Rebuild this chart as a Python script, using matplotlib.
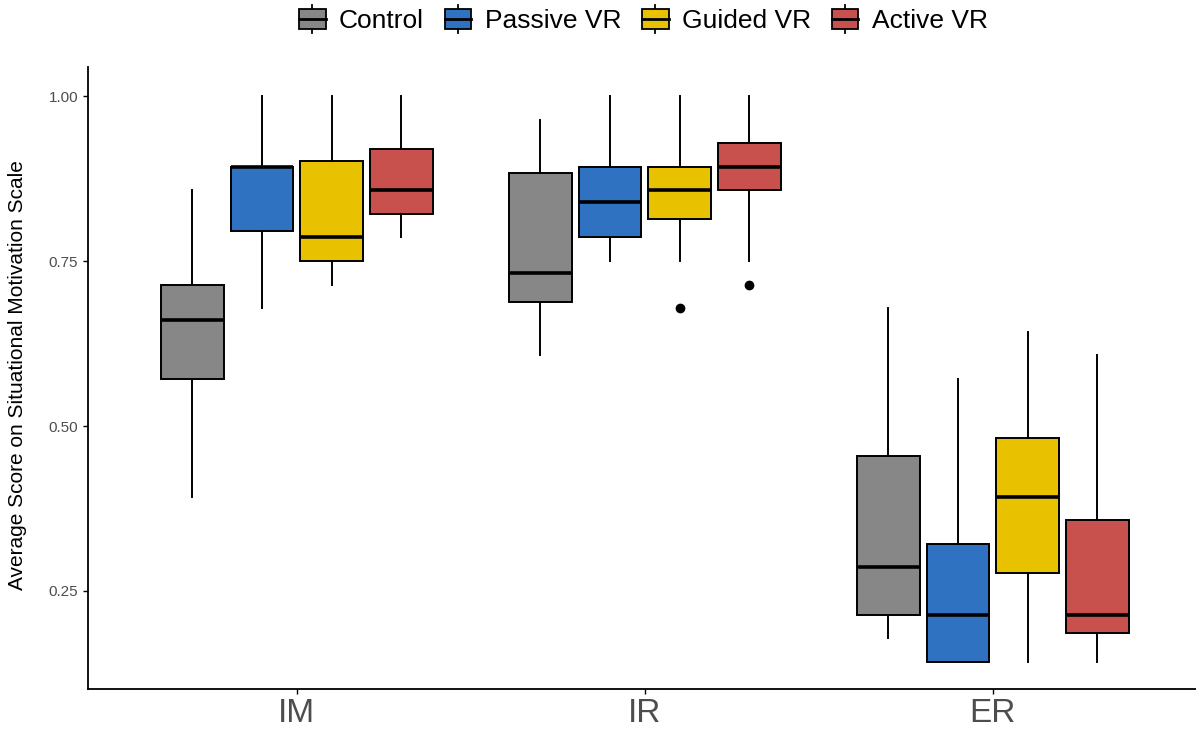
import matplotlib
matplotlib.use("Agg")
import matplotlib.pyplot as plt
from matplotlib.legend_handler import HandlerBase
from matplotlib.patches import Rectangle
from matplotlib.lines import Line2D

plt.rcParams['font.family'] = ['Liberation Sans', 'DejaVu Sans']

# data
scales = ["IM", "IR", "ER"]
groups = ["Control", "Passive VR", "Guided VR", "Active VR"]
colors = ["#878787", "#3072C2", "#E8C100", "#C8514D"]

# per group: one value per scale (IM, IR, ER)
whislo = {"Control":    [0.393, 0.607, 0.179],
          "Passive VR": [0.679, 0.750, 0.143],
          "Guided VR":  [0.714, 0.750, 0.143],
          "Active VR":  [0.786, 0.750, 0.143]}
q1 = {"Control":    [0.571, 0.688, 0.214],
      "Passive VR": [0.795, 0.786, 0.143],
      "Guided VR":  [0.750, 0.813, 0.277],
      "Active VR":  [0.822, 0.857, 0.187]}
med = {"Control":    [0.661, 0.732, 0.286],
       "Passive VR": [0.893, 0.839, 0.214],
       "Guided VR":  [0.786, 0.857, 0.393],
       "Active VR":  [0.857, 0.893, 0.214]}
q3 = {"Control":    [0.714, 0.884, 0.455],
      "Passive VR": [0.893, 0.893, 0.321],
      "Guided VR":  [0.902, 0.893, 0.482],
      "Active VR":  [0.920, 0.929, 0.357]}
whishi = {"Control":    [0.857, 0.964, 0.679],
          "Passive VR": [1.000, 1.000, 0.571],
          "Guided VR":  [1.000, 1.000, 0.643],
          "Active VR":  [1.000, 1.000, 0.607]}
fliers = {"Control":    [[], [], []],
          "Passive VR": [[], [], []],
          "Guided VR":  [[], [0.679], []],
          "Active VR":  [[], [0.714], []]}

fig = plt.figure(figsize=(11.96, 7.29), dpi=100)
ax = fig.add_axes([88 / 1196, 40 / 729, 1113.6 / 1196, 622 / 729])

offsets = [-0.3, -0.1, 0.1, 0.3]
for g, c, off in zip(groups, colors, offsets):
    stats = []
    for i in range(len(scales)):
        stats.append(dict(whislo=whislo[g][i], q1=q1[g][i], med=med[g][i],
                          q3=q3[g][i], whishi=whishi[g][i], fliers=fliers[g][i]))
    pos = [i + 1 + off for i in range(len(scales))]
    ax.bxp(stats, positions=pos, widths=0.18, patch_artist=True, showcaps=False,
           boxprops=dict(facecolor=c, edgecolor="black", linewidth=1.4),
           medianprops=dict(color="black", linewidth=2.6),
           whiskerprops=dict(color="black", linewidth=1.4),
           flierprops=dict(marker="o", markerfacecolor="black", markeredgecolor="black",
                           markersize=6))

ax.set_xlim(0.4, 3.6)
ax.set_ylim(0.1015, 1.044)
ax.set_xticks([1, 2, 3])
ax.set_xticklabels(scales, fontsize=24, color="#4D4D4D")
ax.set_yticks([0.25, 0.5, 0.75, 1.0])
ax.set_yticklabels(["0.25", "0.50", "0.75", "1.00"], fontsize=11, color="#4D4D4D")
ax.tick_params(axis="both", length=3.5, width=1, color="black")
ax.tick_params(axis="x", pad=3)
ax.set_ylabel("Average Score on Situational Motivation Scale", fontsize=15)
ax.yaxis.set_label_coords(-61 / 1113.6, 0.5 + 3 / 622)
for s in ["top", "right"]:
    ax.spines[s].set_visible(False)
for s in ["left", "bottom"]:
    ax.spines[s].set_linewidth(1.3)


class BoxKey(HandlerBase):
    def create_artists(self, legend, orig, xd, yd, w, h, fontsize, trans):
        cx = xd + w / 2
        bw = w
        bh = h * 1.1
        by = yd + h / 2 - bh / 2
        r = Rectangle((cx - bw / 2, by), bw, bh, facecolor=orig.get_facecolor(),
                      edgecolor="black", linewidth=1.3, transform=trans)
        wl = Line2D([cx, cx], [by - h * 0.22, by + bh + h * 0.22], color="black",
                    linewidth=1.3, transform=trans)
        ml = Line2D([cx - bw / 2, cx + bw / 2], [yd + h / 2] * 2, color="black",
                    linewidth=2.0, transform=trans)
        return [wl, r, ml]


handles = [Rectangle((0, 0), 1, 1, facecolor=c) for c in colors]
fig.legend(handles, groups, loc="center", bbox_to_anchor=(0.538, 1 - 21 / 729),
           ncol=4, frameon=False, fontsize=19, handler_map={Rectangle: BoxKey()},
           handlelength=1.0, handleheight=0.7, handletextpad=0.5, columnspacing=0.8,
           borderpad=0)

fig.savefig("out.png", dpi=100)
